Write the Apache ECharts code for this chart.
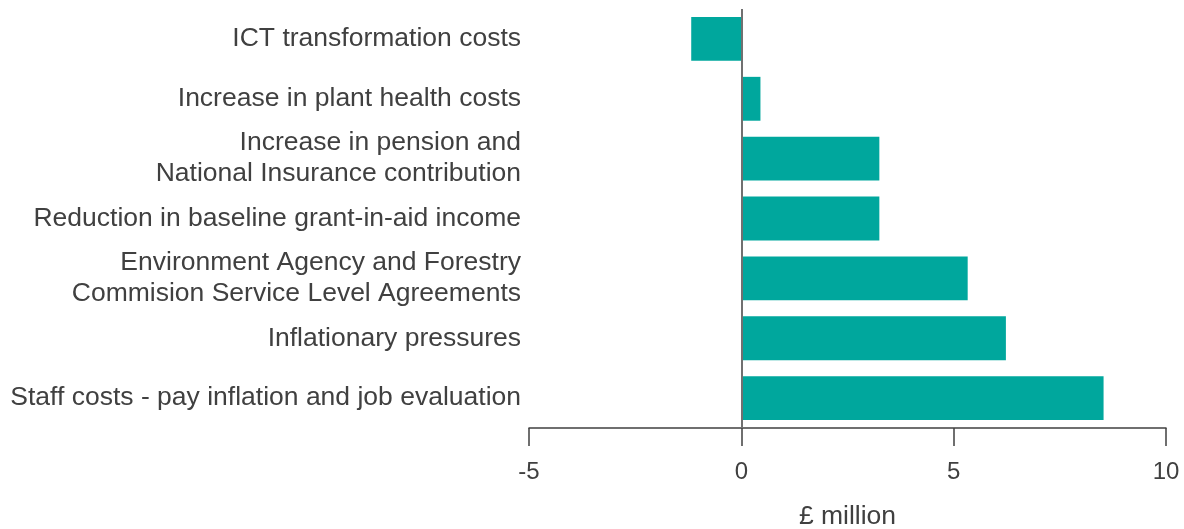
<!DOCTYPE html>
<html>
<head>
<meta charset="utf-8">
<script src="https://cdn.jsdelivr.net/npm/echarts@6/dist/echarts.min.js"></script>
<style>
html,body{margin:0;padding:0;background:#fff;}
#c{width:1184px;height:529px;}
</style>
</head>
<body>
<div id="c"></div>
<script>
const categories = [
  "Staff costs - pay inflation and job evaluation",
  "Inflationary pressures",
  "Environment Agency and Forestry\nCommision Service Level Agreements",
  "Reduction in baseline grant-in-aid income",
  "Increase in pension and\nNational Insurance contribution",
  "Increase in plant health costs",
  "ICT transformation costs"
];
const values = [8.53, 6.23, 5.33, 3.25, 3.25, 0.45, -1.18];
const xTicks = { min: -5, max: 10, interval: 5 };
const axisName = "£ million";

const chart = echarts.init(document.getElementById('c'), null, {renderer: 'canvas'});
chart.setOption({
  animation: false,
  textStyle: { fontFamily: 'Liberation Sans, Arial, sans-serif' },
  grid: { left: 529, right: 18, top: 9, bottom: 101, containLabel: false, outerBoundsMode: 'none' },
  xAxis: {
    type: 'value',
    min: xTicks.min, max: xTicks.max, interval: xTicks.interval,
    name: axisName,
    nameLocation: 'middle',
    nameGap: 75,
    nameTextStyle: { fontSize: 26.5, color: '#404040' },
    axisLine: { show: true, lineStyle: { color: '#404040', width: 1.5 } },
    axisTick: { show: true, length: 18, lineStyle: { color: '#404040', width: 1.5 } },
    axisLabel: { fontSize: 24, color: '#404040', margin: 32 },
    splitLine: { show: false }
  },
  yAxis: {
    type: 'category',
    data: categories,
    axisLine: { show: false },
    axisTick: { show: false },
    axisLabel: { fontSize: 26.5, color: '#404040', margin: 8, lineHeight: 31, align: 'right' }
  },
  series: [{
    type: 'bar',
    data: values,
    barCategoryGap: '26.7%',
    itemStyle: { color: '#00a79d' },
    markLine: {
      silent: true,
      symbol: 'none',
      label: { show: false },
      lineStyle: { color: '#707070', width: 2, type: 'solid' },
      data: [{ xAxis: 0 }]
    }
  }]
});
</script>
</body>
</html>
